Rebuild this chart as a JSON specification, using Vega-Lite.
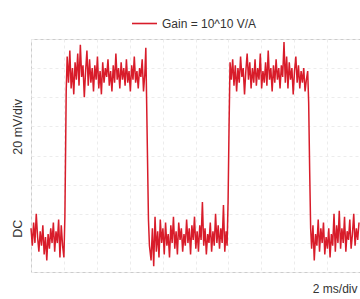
{
  "$schema": "https://vega.github.io/schema/vega-lite/v6.json",
  "width": 329,
  "height": 233,
  "autosize": {"type": "none"},
  "padding": {"left": 31, "top": 39, "right": 0, "bottom": 27},
  "background": "white",
  "config": {
    "font": "Liberation Sans",
    "view": {"stroke": "#cccccc", "strokeWidth": 1}
  },
  "data": {"values": [
    {"t":0.00,"v":1.5},{"t":0.04,"v":0.9},{"t":0.08,"v":1.7},{"t":0.12,"v":1.0},{"t":0.16,"v":2.0},{"t":0.20,"v":1.2},{"t":0.24,"v":0.7},{"t":0.28,"v":1.4},{"t":0.32,"v":0.9},{"t":0.36,"v":1.6},{"t":0.40,"v":0.6},{"t":0.44,"v":1.2},{"t":0.48,"v":0.4},{"t":0.52,"v":1.3},{"t":0.56,"v":0.8},{"t":0.60,"v":1.5},{"t":0.64,"v":1.0},{"t":0.68,"v":1.7},{"t":0.72,"v":0.7},{"t":0.76,"v":1.4},{"t":0.80,"v":1.0},{"t":0.84,"v":1.8},{"t":0.88,"v":0.5},{"t":0.92,"v":1.6},{"t":0.96,"v":0.9},{"t":1.00,"v":0.5},{"t":1.03,"v":1.9},{"t":1.05,"v":4.0},{"t":1.07,"v":6.2},{"t":1.10,"v":7.4},
    {"t":1.14,"v":6.5},{"t":1.18,"v":7.6},{"t":1.22,"v":6.3},{"t":1.26,"v":7.0},{"t":1.30,"v":6.1},{"t":1.34,"v":7.2},{"t":1.38,"v":6.6},{"t":1.42,"v":7.5},{"t":1.46,"v":6.4},{"t":1.50,"v":7.8},{"t":1.54,"v":6.7},{"t":1.58,"v":7.1},{"t":1.62,"v":6.0},{"t":1.66,"v":6.9},{"t":1.70,"v":7.6},{"t":1.74,"v":6.4},{"t":1.78,"v":7.3},{"t":1.82,"v":6.5},{"t":1.86,"v":7.0},{"t":1.90,"v":6.2},{"t":1.94,"v":7.1},{"t":1.98,"v":6.6},{"t":2.02,"v":7.4},{"t":2.06,"v":6.3},{"t":2.10,"v":6.9},{"t":2.14,"v":6.1},{"t":2.18,"v":7.2},{"t":2.22,"v":6.5},{"t":2.26,"v":7.0},{"t":2.30,"v":6.7},{"t":2.34,"v":7.3},{"t":2.38,"v":6.4},{"t":2.42,"v":6.9},{"t":2.46,"v":6.2},{"t":2.50,"v":7.1},{"t":2.54,"v":6.5},{"t":2.58,"v":7.5},{"t":2.62,"v":6.6},{"t":2.66,"v":7.0},{"t":2.70,"v":6.3},{"t":2.74,"v":7.2},{"t":2.78,"v":6.6},{"t":2.82,"v":7.0},{"t":2.86,"v":6.4},{"t":2.90,"v":7.3},{"t":2.94,"v":6.5},{"t":2.98,"v":6.9},{"t":3.02,"v":6.2},{"t":3.06,"v":7.1},{"t":3.10,"v":6.6},{"t":3.14,"v":7.4},{"t":3.18,"v":6.5},{"t":3.22,"v":6.9},{"t":3.26,"v":6.3},{"t":3.30,"v":7.0},{"t":3.34,"v":6.7},{"t":3.38,"v":7.3},{"t":3.42,"v":6.2},{"t":3.46,"v":6.8},{"t":3.49,"v":7.7},{"t":3.51,"v":6.2},{"t":3.54,"v":4.0},{"t":3.57,"v":1.8},{"t":3.60,"v":0.9},
    {"t":3.65,"v":0.4},{"t":3.69,"v":1.5},{"t":3.73,"v":0.2},{"t":3.77,"v":1.9},{"t":3.81,"v":0.7},{"t":3.85,"v":1.4},{"t":3.89,"v":0.5},{"t":3.93,"v":1.8},{"t":3.97,"v":1.0},{"t":4.01,"v":1.5},{"t":4.05,"v":0.6},{"t":4.09,"v":1.7},{"t":4.13,"v":0.9},{"t":4.17,"v":1.3},{"t":4.21,"v":0.5},{"t":4.25,"v":1.6},{"t":4.29,"v":1.0},{"t":4.33,"v":1.9},{"t":4.37,"v":0.8},{"t":4.41,"v":1.4},{"t":4.45,"v":0.6},{"t":4.49,"v":1.7},{"t":4.53,"v":1.1},{"t":4.57,"v":1.5},{"t":4.61,"v":0.7},{"t":4.65,"v":1.3},{"t":4.69,"v":0.9},{"t":4.73,"v":1.8},{"t":4.77,"v":1.0},{"t":4.81,"v":1.5},{"t":4.85,"v":0.6},{"t":4.89,"v":1.6},{"t":4.93,"v":1.1},{"t":4.97,"v":1.9},{"t":5.01,"v":0.8},{"t":5.05,"v":1.4},{"t":5.09,"v":0.7},{"t":5.13,"v":1.6},{"t":5.17,"v":1.1},{"t":5.21,"v":2.4},{"t":5.25,"v":0.9},{"t":5.29,"v":1.5},{"t":5.33,"v":0.6},{"t":5.37,"v":1.3},{"t":5.41,"v":1.0},{"t":5.45,"v":1.7},{"t":5.49,"v":0.7},{"t":5.53,"v":1.4},{"t":5.57,"v":0.9},{"t":5.61,"v":2.0},{"t":5.65,"v":1.0},{"t":5.69,"v":1.6},{"t":5.73,"v":0.8},{"t":5.77,"v":1.5},{"t":5.81,"v":1.0},{"t":5.85,"v":2.3},{"t":5.89,"v":0.7},{"t":5.93,"v":1.4},{"t":5.96,"v":0.9},{"t":5.99,"v":2.4},{"t":6.02,"v":5.0},{"t":6.05,"v":7.2},
    {"t":6.09,"v":6.6},{"t":6.13,"v":7.3},{"t":6.17,"v":6.4},{"t":6.21,"v":7.1},{"t":6.25,"v":6.2},{"t":6.29,"v":7.0},{"t":6.33,"v":6.5},{"t":6.37,"v":7.4},{"t":6.41,"v":6.7},{"t":6.45,"v":7.0},{"t":6.49,"v":6.1},{"t":6.53,"v":6.9},{"t":6.57,"v":7.5},{"t":6.61,"v":6.6},{"t":6.65,"v":7.2},{"t":6.69,"v":6.3},{"t":6.73,"v":7.0},{"t":6.77,"v":6.5},{"t":6.81,"v":7.3},{"t":6.85,"v":6.4},{"t":6.89,"v":7.0},{"t":6.93,"v":6.6},{"t":6.97,"v":7.5},{"t":7.01,"v":6.3},{"t":7.05,"v":6.9},{"t":7.09,"v":6.5},{"t":7.13,"v":7.2},{"t":7.17,"v":6.4},{"t":7.21,"v":7.6},{"t":7.25,"v":6.6},{"t":7.29,"v":7.0},{"t":7.33,"v":6.2},{"t":7.37,"v":7.1},{"t":7.41,"v":6.5},{"t":7.45,"v":7.3},{"t":7.49,"v":6.6},{"t":7.53,"v":7.0},{"t":7.57,"v":6.3},{"t":7.61,"v":7.1},{"t":7.65,"v":6.7},{"t":7.69,"v":7.9},{"t":7.73,"v":6.5},{"t":7.77,"v":7.4},{"t":7.81,"v":6.3},{"t":7.85,"v":7.2},{"t":7.89,"v":6.6},{"t":7.93,"v":7.0},{"t":7.97,"v":6.1},{"t":8.01,"v":6.9},{"t":8.05,"v":7.4},{"t":8.09,"v":6.5},{"t":8.13,"v":7.1},{"t":8.17,"v":6.3},{"t":8.21,"v":6.9},{"t":8.25,"v":6.5},{"t":8.29,"v":7.0},{"t":8.33,"v":6.2},{"t":8.37,"v":6.6},{"t":8.41,"v":6.9},{"t":8.44,"v":5.8},{"t":8.47,"v":3.5},{"t":8.50,"v":1.5},{"t":8.53,"v":0.8},
    {"t":8.57,"v":1.6},{"t":8.61,"v":0.4},{"t":8.65,"v":1.3},{"t":8.69,"v":0.9},{"t":8.73,"v":1.8},{"t":8.77,"v":0.7},{"t":8.81,"v":1.5},{"t":8.85,"v":1.0},{"t":8.89,"v":1.7},{"t":8.93,"v":0.6},{"t":8.97,"v":1.2},{"t":9.01,"v":0.8},{"t":9.05,"v":1.5},{"t":9.09,"v":0.5},{"t":9.13,"v":1.3},{"t":9.17,"v":0.9},{"t":9.21,"v":2.0},{"t":9.25,"v":0.7},{"t":9.29,"v":1.6},{"t":9.33,"v":1.0},{"t":9.37,"v":2.1},{"t":9.41,"v":0.8},{"t":9.45,"v":1.5},{"t":9.49,"v":1.0},{"t":9.53,"v":1.9},{"t":9.57,"v":0.7},{"t":9.61,"v":1.4},{"t":9.65,"v":1.1},{"t":9.69,"v":1.8},{"t":9.73,"v":0.8},{"t":9.77,"v":1.3},{"t":9.81,"v":2.0},{"t":9.85,"v":0.9},{"t":9.89,"v":1.5},{"t":9.93,"v":1.1},{"t":9.97,"v":1.7}
  ]},
  "mark": {"type": "line", "strokeWidth": 1.5, "interpolate": "linear"},
  "encoding": {
    "x": {
      "field": "t", "type": "quantitative",
      "scale": {"domain": [0, 10], "nice": false, "zero": false},
      "axis": {
        "values": [0,1,2,3,4,5,6,7,8,9,10],
        "labels": false, "ticks": false, "domain": false,
        "grid": true, "gridColor": "#ececec", "gridDash": [3, 3], "gridWidth": 1,
        "title": "2 ms/div", "titleAnchor": "end", "titleAlign": "right", "titleX": 326,
        "titleFontSize": 12, "titleFontWeight": "normal", "titleColor": "#333", "titlePadding": 11
      }
    },
    "y": {
      "field": "v", "type": "quantitative",
      "scale": {"domain": [0, 8], "nice": false, "zero": false},
      "axis": {
        "values": [0,1,1.5,2,3,4,5,6,7,8],
        "ticks": false, "domain": false,
        "grid": true, "gridColor": "#ececec", "gridDash": [3, 3], "gridWidth": 1,
        "gridOpacity": {"condition": {"test": "datum.value == 1.5", "value": 0}, "value": 1},
        "labelExpr": "datum.value == 1.5 ? 'DC' : (datum.value == 5 ? '20 mV/div' : '')",
        "labelAngle": -90, "labelAlign": "center", "labelBaseline": "bottom",
        "labelPadding": 7, "labelFontSize": 12.5, "labelColor": "#333",
        "labelOverlap": false, "labelBound": false, "labelFlush": false,
        "title": null
      }
    },
    "color": {
      "datum": "Gain = 10^10 V/A",
      "scale": {"range": ["#d81c2a"]},
      "legend": {
        "orient": "none", "legendX": 100, "legendY": -29,
        "title": null, "symbolType": "stroke", "symbolSize": 625, "symbolStrokeWidth": 1.6,
        "labelFontSize": 12, "labelColor": "#333", "labelOffset": 4
      }
    }
  }
}
